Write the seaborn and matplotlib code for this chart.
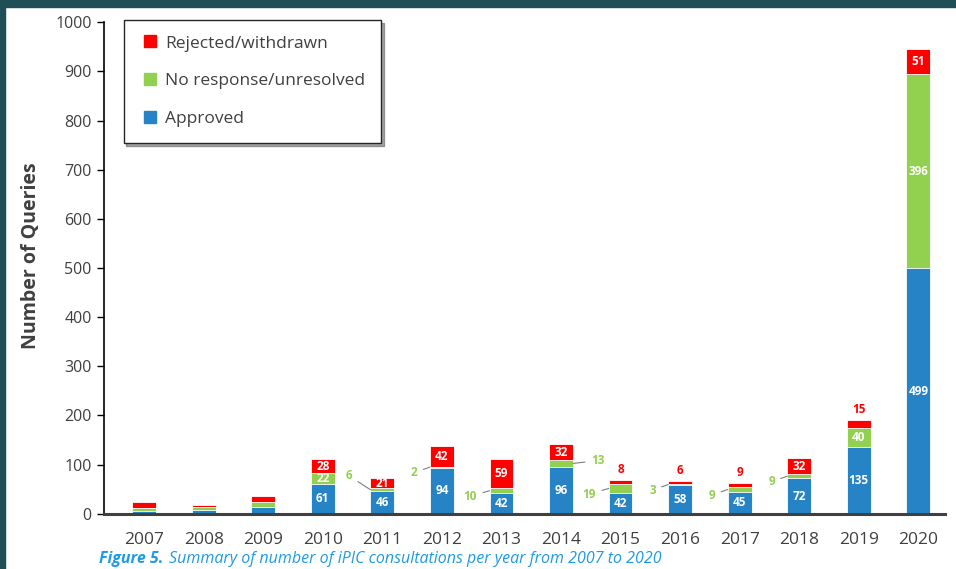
import matplotlib
matplotlib.use("Agg")
import matplotlib.pyplot as plt
import matplotlib.patches as mpatches
from matplotlib.lines import Line2D
import numpy as np
import pandas as pd
import seaborn as sns

years = [2007, 2008, 2009, 2010, 2011, 2012, 2013, 2014, 2015, 2016, 2017, 2018, 2019, 2020]
approved = [6, 7, 14, 61, 46, 94, 42, 96, 42, 58, 45, 72, 135, 499]
no_response = [6, 6, 11, 22, 6, 2, 10, 13, 19, 3, 9, 9, 40, 396]
rejected = [11, 5, 12, 28, 21, 42, 59, 32, 8, 6, 9, 32, 15, 51]
# the first three years carry no value labels in the original
labelled = [False, False, False] + [True] * 11

RED = "#FF0000"
GREEN = "#92D050"
BLUE = "#2683C6"
GREY = "#404040"

df = pd.DataFrame({"year": [str(y) for y in years],
                   "approved": approved,
                   "no_response": no_response,
                   "rejected": rejected})
df["green_top"] = df["approved"] + df["no_response"]
df["total"] = df["green_top"] + df["rejected"]

sns.set_theme(style="white")
plt.rcParams["font.family"] = ["Open Sans", "DejaVu Sans"]

fig = plt.figure(figsize=(9.56, 5.69), dpi=100)
ax = fig.add_axes([0.109, 0.097, 0.879, 0.864])

# stacked bars by overlaying cumulative heights
order = df["year"].tolist()
for col, colr in [("total", RED), ("green_top", GREEN), ("approved", BLUE)]:
    sns.barplot(data=df, x="year", y=col, order=order, color=colr, width=0.4,
                edgecolor="white", linewidth=0.6, saturation=1, ax=ax)

# value labels
right_side = {2014}
label_dy = {2011: 10, 2014: 2}
for i, row in df.iterrows():
    if not labelled[i]:
        continue
    a, n, r = row["approved"], row["no_response"], row["rejected"]
    ax.text(i, a / 2, str(a), ha="center", va="center", color="white",
            fontsize=8.5, fontweight="bold")
    if n >= 20:
        ax.text(i, a + n / 2, str(n), ha="center", va="center", color="white",
                fontsize=8.5, fontweight="bold")
    else:
        yr = years[i]
        dy = label_dy.get(yr, -4)
        if yr in right_side:
            xy, off, ha = (i + 0.2, a + n / 2), (13, dy), "left"
        else:
            dx = -13 if yr == 2011 else -9
            xy, off, ha = (i - 0.2, a + n / 2), (dx, dy), "right"
        ax.annotate(str(n), xy=xy, xytext=off, textcoords="offset points",
                    ha=ha, va="center", color=GREEN, fontsize=8.5, fontweight="bold",
                    arrowprops=dict(arrowstyle="-", color="#7F7F7F", lw=0.8,
                                    shrinkA=2, shrinkB=0))
    if r >= 20:
        ax.text(i, a + n + r / 2, str(r), ha="center", va="center", color="white",
                fontsize=8.5, fontweight="bold")
    else:
        ax.annotate(str(r), xy=(i, a + n + r), xytext=(0, 3), textcoords="offset points",
                    ha="center", va="bottom", color=RED, fontsize=8.5, fontweight="bold")

ax.set_ylim(0, 1000)
ax.set_xlim(-0.67, 13.44)
ax.set_yticks(range(0, 1001, 100))
ax.set_xlabel("")
ax.set_ylabel("Number of Queries", fontsize=14, fontweight="bold", color=GREY)
ax.yaxis.set_label_coords(-0.075, 0.525)
ax.tick_params(axis="y", which="major", left=True, length=5, width=1, color="black",
               labelsize=11.5, labelcolor=GREY, pad=4)
ax.tick_params(axis="x", bottom=False, labelsize=12.5, labelcolor=GREY, pad=7)
for s in ["top", "right"]:
    ax.spines[s].set_visible(False)
ax.spines["left"].set_color("black")
ax.spines["left"].set_linewidth(1.2)
ax.spines["bottom"].set_color(GREY)
ax.spines["bottom"].set_linewidth(2.2)

handles = [Line2D([], [], marker="s", linestyle="", color=RED, markersize=8,
                  label="Rejected/withdrawn"),
           Line2D([], [], marker="s", linestyle="", color=GREEN, markersize=8,
                  label="No response/unresolved"),
           Line2D([], [], marker="s", linestyle="", color=BLUE, markersize=8,
                  label="Approved")]
leg = ax.legend(handles=handles, loc="upper left", bbox_to_anchor=(0.023, 1.005),
                frameon=True, fancybox=False, shadow=True, edgecolor="#262626",
                fontsize=12.5, handlelength=1.2, handletextpad=0.3,
                labelspacing=1.25, borderpad=0.9, borderaxespad=0)
for t in leg.get_texts():
    t.set_color(GREY)
leg.get_frame().set_linewidth(1.0)

# caption
cap1 = fig.text(0.104, 0.004, "Figure 5.", color="#1E9BE6", fontsize=11.5,
                fontstyle="italic", fontweight="bold", va="bottom")
ax.annotate("Summary of number of iPIC consultations per year from 2007 to 2020",
            xy=(1, 0), xycoords=cap1, xytext=(4, 0), textcoords="offset points",
            va="bottom", ha="left", color="#1E9BE6", fontsize=11.5, fontstyle="italic",
            annotation_clip=False)

# dark frame strips from the slide
fig.patches.append(mpatches.Rectangle((0, 0.988), 1, 0.012, transform=fig.transFigure,
                                      color="#1F4E56", zorder=10))
fig.patches.append(mpatches.Rectangle((0, 0), 0.005, 1, transform=fig.transFigure,
                                      color="#1F4E56", zorder=10))

fig.savefig("out.png", dpi=100)
